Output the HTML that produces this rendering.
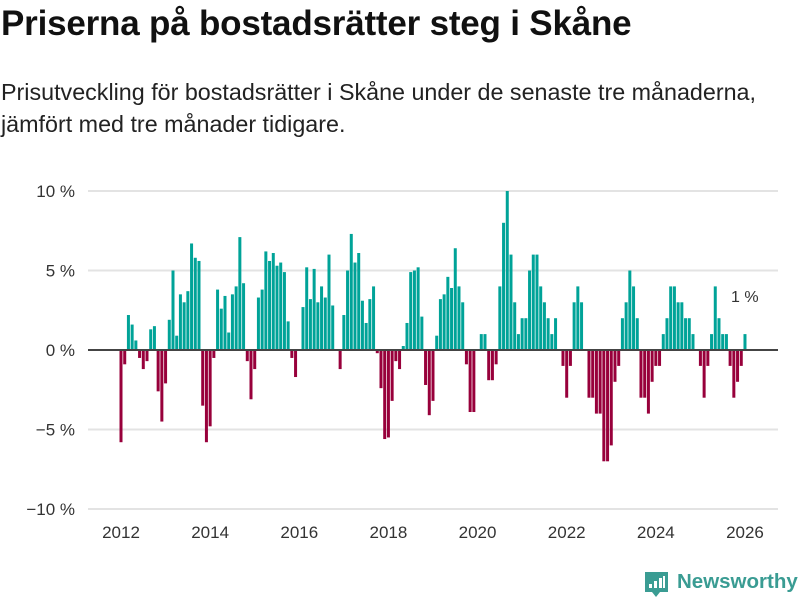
<!DOCTYPE html>
<html><head><meta charset="utf-8">
<style>
body{margin:0;width:800px;height:600px;background:#fff;font-family:"Liberation Sans",sans-serif;overflow:hidden;position:relative}
h1{position:absolute;left:1px;top:4px;margin:0;font-size:35px;font-weight:bold;color:#111;letter-spacing:-0.2px;white-space:nowrap}
.sub{position:absolute;left:1px;top:76px;margin:0;font-size:23.3px;line-height:32px;color:#222;white-space:nowrap}
svg{position:absolute;left:0;top:0}
.logo{position:absolute;left:677px;top:570px;font-size:20.5px;color:#3a9c93;font-weight:bold;white-space:nowrap}
</style></head><body>
<h1>Priserna på bostadsrätter steg i Skåne</h1>
<p class="sub">Prisutveckling för bostadsrätter i Skåne under de senaste tre månaderna,<br>jämfört med tre månader tidigare.</p>
<svg width="800" height="600" id="chart"></svg>
<svg width="800" height="600" style="pointer-events:none">
<path d="M645,572 h23 v20 h-8 l-4,5 l-4,-5 h-7 z" fill="#3a9c93"/>
<rect x="649" y="584" width="3" height="4" fill="#fff"/><rect x="654" y="581" width="3" height="7" fill="#fff"/><rect x="659" y="578" width="3" height="10" fill="#fff"/><rect x="663" y="576" width="2" height="12" fill="#fff"/>
</svg>
<div class="logo">Newsworthy</div>
<script>
const startYear = 2012;
const values = [
-5.8,-0.9,2.2,1.6,0.6,-0.5,-1.2,-0.7,1.3,1.5,-2.6,-4.5,
-2.1,1.9,5.0,0.9,3.5,3.0,3.7,6.7,5.8,5.6,-3.5,-5.8,
-4.8,-0.5,3.8,2.6,3.4,1.1,3.5,4.0,7.1,4.2,-0.7,-3.1,
-1.2,3.3,3.8,6.2,5.6,6.1,5.3,5.5,4.9,1.8,-0.5,-1.7,
0,2.7,5.2,3.2,5.1,3.0,4.0,3.3,6.0,2.8,0,-1.2,
2.2,5.0,7.3,5.5,6.1,3.1,1.7,3.2,4.0,-0.2,-2.4,-5.6,
-5.5,-3.2,-0.7,-1.2,0.25,1.7,4.9,5.0,5.2,2.1,-2.2,-4.1,
-3.2,0.9,3.2,3.5,4.6,3.9,6.4,4.0,3.0,-0.9,-3.9,-3.9,
0,1.0,1.0,-1.9,-1.9,-0.9,4.0,8.0,10.0,6.0,3.0,1.0,
2.0,2.0,5.0,6.0,6.0,4.0,3.0,2.0,1.0,2.0,0,-1.0,
-3.0,-1.0,3.0,4.0,3.0,0,-3.0,-3.0,-4.0,-4.0,-7.0,-7.0,
-6.0,-2.0,-1.0,2.0,3.0,5.0,4.0,2.0,-3.0,-3.0,-4.0,-2.0,
-1.0,-1.0,1.0,2.0,4.0,4.0,3.0,3.0,2.0,2.0,1.0,0,
-1.0,-3.0,-1.0,1.0,4.0,2.0,1.0,1.0,-1.0,-3.0,-2.0,-1.0,
1.0
];
const yTicks = [10,5,0,-5,-10];
const yTickLabels = ["10 %","5 %","0 %","−5 %","−10 %"];
const xTickYears = [2012,2014,2016,2018,2020,2022,2024,2026];

const NS="http://www.w3.org/2000/svg";
const svg=document.getElementById('chart');
function yS(v){return 350 - v*15.9;}
function xS(monthIdx){return 121 + monthIdx*(44.57/12);}
function mk(tag,attrs){const e=document.createElementNS(NS,tag);for(const k in attrs)e.setAttribute(k,attrs[k]);svg.appendChild(e);return e;}
yTicks.forEach((t,i)=>{
  if(t!==0){const g=mk('line',{x1:88,x2:778,y1:yS(t),y2:yS(t),stroke:'#e3e3e3','stroke-width':2});
  
  }
  const tx=mk('text',{x:75,y:yS(t)+6,'text-anchor':'end','font-size':17,fill:'#333','font-family':'Liberation Sans, sans-serif'});
  tx.textContent=yTickLabels[i];
  
  
});
xTickYears.forEach(yr=>{
  const x=xS((yr-startYear)*12);
  const t=mk('text',{x:x,y:538,'text-anchor':'middle','font-size':17,fill:'#333','font-family':'Liberation Sans, sans-serif'});
  t.textContent=yr;
  
  
});
values.forEach((v,i)=>{
  const x=xS(i)-1.5;
  const y0=yS(Math.max(v,0)), y1=yS(Math.min(v,0));
  const r=mk('rect',{x:x,y:y0,width:3,height:Math.max(y1-y0,0),fill:v>=0?'#00a398':'#98003b'});
  
  
});
const zl=mk('line',{x1:88,x2:778,y1:350,y2:350,stroke:'#444','stroke-width':2});


const last=values[values.length-1];
const an=mk('text',{x:xS(values.length-1)-14,y:yS(last)-32,'font-size':16,fill:'#333','font-family':'Liberation Sans, sans-serif'});
an.textContent=Math.round(last)+' %';


</script>
</body></html>
